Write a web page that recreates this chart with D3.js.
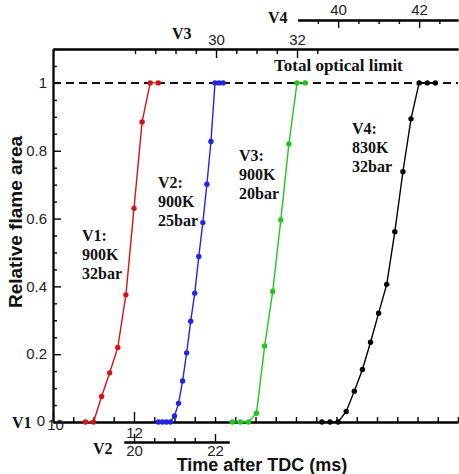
<!DOCTYPE html>
<html><head><meta charset="utf-8">
<script src="https://cdn.jsdelivr.net/npm/d3@7"></script>
<style>
html,body{margin:0;padding:0;background:#fff;}
svg{display:block;}
</style></head><body>
<svg id="chart" width="459" height="474"></svg>
<script>
// Relative flame area growth for four ignition cases, each case on its own time axis
const v1Time = [10.8, 11.0, 11.2, 11.4, 11.6, 11.8, 12.0, 12.2, 12.4, 12.6];
const v1Area = [0, 0, 0.075, 0.145, 0.22, 0.375, 0.63, 0.885, 1, 1];
const v2Time = [20.6, 20.7, 20.8, 20.9, 21.0, 21.1, 21.2, 21.3, 21.4, 21.5, 21.6, 21.7, 21.8, 21.9, 22.0, 22.1, 22.2];
const v2Area = [0, 0, 0, 0, 0.018, 0.055, 0.121, 0.204, 0.297, 0.38, 0.488, 0.588, 0.701, 0.827, 1, 1, 1];
const v3Time = [30.4, 30.6, 30.8, 31.0, 31.2, 31.4, 31.6, 31.8, 32.0, 32.2];
const v3Area = [0, 0, 0, 0.026, 0.224, 0.385, 0.596, 0.82, 1, 1];
const v4Time = [39.6, 39.8, 40.0, 40.2, 40.4, 40.6, 40.8, 41.0, 41.2, 41.4, 41.6, 41.8, 42.0, 42.2, 42.4];
const v4Area = [0, 0, 0, 0.031, 0.091, 0.155, 0.235, 0.321, 0.406, 0.561, 0.738, 0.894, 1, 1, 1];

const caseNames = ["V1", "V2", "V3", "V4"];
const caseText = [
  ["V1:", "900K", "32bar"],
  ["V2:", "900K", "25bar"],
  ["V3:", "900K", "20bar"],
  ["V4:", "830K", "32bar"]
];
const caseColors = ["#d41414", "#2424e8", "#1ec81e", "#000000"];

const yTickValues = [0, 0.2, 0.4, 0.6, 0.8, 1];
const v1TickLabels = [10, 12];
const v2TickLabels = [20, 22];
const v3TickLabels = [30, 32];
const v4TickLabels = [40, 42];
const limitValue = 1;
const limitLabel = "Total optical limit";
const xTitle = "Time after TDC (ms)";
const yTitle = "Relative flame area";

const plotL = 53, plotR = 458, plotT = 49, plotB = 422;
const SANS = "'Liberation Sans', Arial, sans-serif";
const SERIF = "'Liberation Serif', 'Times New Roman', serif";

const svg = d3.select("#chart");

const y = d3.scaleLinear().domain([0, 1.1]).range([plotB, plotT]);
// each case has its own shifted time axis sharing the same ms-per-pixel
const xV1 = d3.scaleLinear().domain([10, 20]).range([plotL, plotR]);
const xV2 = d3.scaleLinear().domain([18, 28]).range([plotL, plotR]);
const xV3 = d3.scaleLinear().domain([25.975, 35.975]).range([plotL, plotR]);
const xV4 = d3.scaleLinear().domain([32.96, 42.96]).range([plotL, plotR]);
const caseScales = [xV1, xV2, xV3, xV4];

function styleAxis(g, size) {
  g.selectAll("path.domain").attr("stroke", "#000").attr("stroke-width", 1.8);
  g.selectAll(".tick line").attr("stroke", "#000").attr("stroke-width", 1.4);
  g.selectAll(".tick text").attr("font-family", SANS).attr("font-size", size || 15).attr("fill", "#222");
}
function minorRange(a, b, step, skip) {
  return d3.range(a, b + 1e-9, step).map(v => +v.toFixed(3)).filter(v => !skip.includes(v));
}

// ---- y axis
const yMinor = minorRange(0, 1.1, 0.05, yTickValues);
const gyMinor = svg.append("g").attr("transform", `translate(${plotL},0)`)
  .call(d3.axisLeft(y).tickValues(yMinor).tickSize(-4).tickSizeOuter(0).tickFormat(""));
styleAxis(gyMinor);
const gy = svg.append("g").attr("transform", `translate(${plotL},0)`)
  .call(d3.axisLeft(y).tickValues(yTickValues).tickSize(-8).tickSizeOuter(0).tickPadding(6).tickFormat(d3.format("~g")));
styleAxis(gy);
gy.selectAll(".tick text").filter(d => d === 0).attr("x", -8).attr("dy", "0.25em");

// ---- bottom V1 axis (frame bottom)
const gxMinor = svg.append("g").attr("transform", `translate(0,${plotB})`)
  .call(d3.axisBottom(xV1).tickValues(minorRange(10, 20, 0.5, v1TickLabels)).tickSize(-5).tickSizeOuter(0).tickFormat(""));
styleAxis(gxMinor);
const gx = svg.append("g").attr("transform", `translate(0,${plotB})`)
  .call(d3.axisBottom(xV1).tickValues(v1TickLabels).tickSize(-10).tickSizeOuter(0).tickPadding(5).tickFormat(d3.format("d")));
styleAxis(gx);
gx.selectAll(".tick text").filter(d => d === 10).attr("x", 2).attr("y", -3);

// ---- V2 axis below the frame
const v2Span = xV2.copy().domain([19.75, 22.35]).range([xV2(19.75), xV2(22.35)]);
const g2Minor = svg.append("g").attr("transform", `translate(0,442)`)
  .call(d3.axisBottom(v2Span).tickValues([20.5, 21, 21.5]).tickSize(-4).tickSizeOuter(0).tickFormat(""));
styleAxis(g2Minor);
const g2 = svg.append("g").attr("transform", `translate(0,442)`)
  .call(d3.axisBottom(v2Span).tickValues(v2TickLabels).tickSize(-8).tickSizeOuter(0).tickPadding(3).tickFormat(d3.format("d")));
styleAxis(g2);

// ---- V3 axis (frame top)
const g3Minor = svg.append("g").attr("transform", `translate(0,${plotT})`)
  .call(d3.axisTop(xV3).tickValues(minorRange(28, 32.5, 0.5, v3TickLabels)).tickSize(-5).tickSizeOuter(0).tickFormat(""));
styleAxis(g3Minor);
const g3 = svg.append("g").attr("transform", `translate(0,${plotT})`)
  .call(d3.axisTop(xV3).tickValues(v3TickLabels).tickSize(-9).tickSizeOuter(0).tickPadding(4).tickFormat(d3.format("d")));
styleAxis(g3);

// ---- V4 axis above the frame
const v4Span = xV4.copy().domain([39, xV4.invert(plotR)]).range([xV4(39), plotR]);
const g4Minor = svg.append("g").attr("transform", `translate(0,20)`)
  .call(d3.axisTop(v4Span).tickValues([39.5, 40.5, 41, 41.5, 42.5]).tickSize(-4).tickSizeOuter(0).tickFormat(""));
styleAxis(g4Minor);
const g4 = svg.append("g").attr("transform", `translate(0,20)`)
  .call(d3.axisTop(v4Span).tickValues(v4TickLabels).tickSize(-8).tickSizeOuter(0).tickPadding(5).tickFormat(d3.format("d")));
styleAxis(g4);

// ---- axis names
const axisNames = [
  {t: "V1", x: 12, y: 428},
  {t: "V2", x: 93, y: 454},
  {t: "V3", x: 172, y: 39},
  {t: "V4", x: 268, y: 23}
];
svg.append("g").selectAll("text").data(axisNames).join("text")
  .attr("x", d => d.x).attr("y", d => d.y)
  .attr("font-family", SERIF).attr("font-weight", "bold").attr("font-size", 16).attr("fill", "#111")
  .text(d => d.t);

// ---- total optical limit
svg.append("line")
  .attr("x1", plotL).attr("x2", plotR).attr("y1", y(limitValue)).attr("y2", y(limitValue))
  .attr("stroke", "#111").attr("stroke-width", 2).attr("stroke-dasharray", "8,5");
svg.append("text").attr("x", 274).attr("y", 71)
  .attr("font-family", SERIF).attr("font-weight", "bold").attr("font-size", 17).attr("fill", "#111")
  .text(limitLabel);

// ---- series
const seriesTimes = [v1Time, v2Time, v3Time, v4Time];
const seriesAreas = [v1Area, v2Area, v3Area, v4Area];
const series = caseNames.map((name, i) => ({
  name, color: caseColors[i], sx: caseScales[i],
  points: seriesTimes[i].map((t, j) => ({t, a: seriesAreas[i][j]}))
}));

const gs = svg.append("g").selectAll("g").data(series).join("g");
gs.append("path")
  .attr("fill", "none").attr("stroke", d => d.color).attr("stroke-width", 1.4)
  .attr("d", d => d3.line().x(p => d.sx(p.t)).y(p => y(p.a))(d.points));
gs.each(function(d) {
  d3.select(this).selectAll("circle").data(d.points).join("circle")
    .attr("cx", p => d.sx(p.t)).attr("cy", p => y(p.a)).attr("r", 2.7)
    .attr("fill", d.color);
});

// ---- case annotations
const casePos = [
  {x: 82, y: 241},
  {x: 158, y: 188},
  {x: 239, y: 161},
  {x: 352, y: 134}
];
caseText.forEach((lines, i) => {
  const t = svg.append("text")
    .attr("font-family", SERIF).attr("font-weight", "bold").attr("font-size", 16).attr("fill", "#111");
  lines.forEach((s, k) => {
    t.append("tspan").attr("x", casePos[i].x).attr("y", casePos[i].y + k * 19).text(s);
  });
});

// ---- titles
svg.append("text").attr("x", 262).attr("y", 470.5)
  .attr("text-anchor", "middle").attr("font-family", SANS).attr("font-weight", "bold").attr("font-size", 18).attr("fill", "#111")
  .text(xTitle);
svg.append("text").attr("transform", "translate(22,222) rotate(-90)")
  .attr("text-anchor", "middle").attr("font-family", SANS).attr("font-weight", "bold").attr("font-size", 19).attr("fill", "#111")
  .text(yTitle);
</script>
</body></html>
